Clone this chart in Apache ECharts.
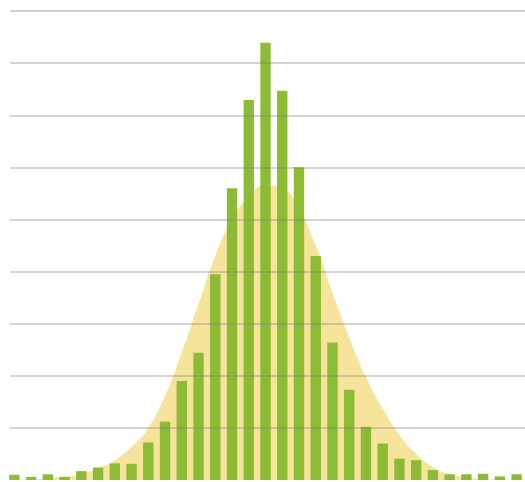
<!DOCTYPE html>
<html>
<head>
<meta charset="utf-8">
<script src="https://cdn.jsdelivr.net/npm/echarts@6/dist/echarts.min.js"></script>
<style>
html,body{margin:0;padding:0;background:#fff;}
#chart{width:525px;height:482px;}
</style>
</head>
<body>
<div id="chart"></div>
<script>
// Histogram bins (labels hidden in the reference)
const categories = ['1','2','3','4','5','6','7','8','9','10','11','12','13','14','15','16','17','18','19','20','21','22','23','24','25','26','27','28','29','30','31'];
// Observed frequencies (green bars), in gridline units
const barValues = [0.10,0.06,0.11,0.06,0.17,0.24,0.32,0.31,0.72,1.12,1.90,2.44,3.95,5.60,7.29,8.39,7.47,6.00,4.30,2.64,1.73,1.02,0.70,0.41,0.38,0.19,0.11,0.11,0.12,0.07,0.11];
// Reference normal curve (yellow area)
const curveValues = [0.00,0.01,0.03,0.06,0.12,0.22,0.38,0.64,1.00,1.62,2.45,3.38,4.30,5.00,5.45,5.65,5.60,5.20,4.50,3.60,2.74,1.98,1.37,0.87,0.50,0.25,0.11,0.05,0.02,0.01,0.00];
// Gridline ticks
const gridMin = 1, gridMax = 9, gridStep = 1;

const chart = echarts.init(document.getElementById('chart'), null, {renderer:'canvas'});
chart.setOption({
  animation:false,
  backgroundColor:'#ffffff',
  grid:[
    {left:6, width:529, top:11, bottom:2},
    {left:10, right:0, top:11, height:417}
  ],
  xAxis:[
    {type:'category', gridIndex:0, data:categories, boundaryGap:true,
     axisLine:{show:false}, axisTick:{show:false}, axisLabel:{show:false}, splitLine:{show:false}},
    {type:'value', gridIndex:1, show:false, min:0, max:1}
  ],
  yAxis:[
    {type:'value', gridIndex:0, min:0, max:9, interval:1,
     axisLine:{show:false}, axisTick:{show:false}, axisLabel:{show:false}, splitLine:{show:false}},
    {type:'value', gridIndex:1, min:gridMin, max:gridMax, interval:gridStep, z:10,
     axisLine:{show:false}, axisTick:{show:false}, axisLabel:{show:false},
     splitLine:{show:true, lineStyle:{color:'rgba(120,120,120,0.32)', width:2}}}
  ],
  series:[
    {type:'line', xAxisIndex:0, yAxisIndex:0, data:curveValues, smooth:true,
     symbol:'none', lineStyle:{width:0}, areaStyle:{color:'#f7e49c', opacity:1}, z:1},
    {type:'bar', xAxisIndex:0, yAxisIndex:0, data:barValues, barCategoryGap:'38%',
     itemStyle:{color:'#8dbb35'}, z:2}
  ]
});
</script>
</body>
</html>
